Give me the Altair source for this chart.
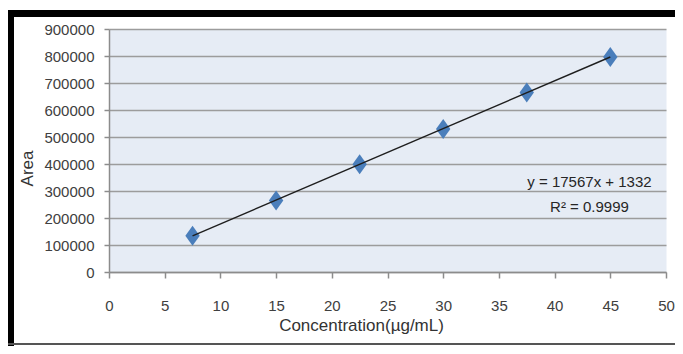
import altair as alt
import pandas as pd

# ---- data ----
conc = [7.5, 15, 22.5, 30, 37.5, 45]
area = [134500, 265000, 399000, 530000, 665000, 796000]
x_ticks = [0, 5, 10, 15, 20, 25, 30, 35, 40, 45, 50]
y_ticks = [0, 100000, 200000, 300000, 400000, 500000, 600000, 700000, 800000, 900000]
eq_text = ["y = 17567x + 1332", "R² = 0.9999"]
eq_x = [43.13, 43.13]
eq_y = [333000, 241000]

df = pd.DataFrame({"Concentration": conc, "Area": area})
ann = pd.DataFrame({"Concentration": eq_x, "Area": eq_y, "t": eq_text})
one = pd.DataFrame({"k": [0]})

FONT = "Liberation Sans"
xs = alt.Scale(domain=[0, 50], nice=False, zero=False)
ys = alt.Scale(domain=[0, 900000], nice=False, zero=False)

x_axis = alt.Axis(values=x_ticks, title="Concentration(µg/mL)", grid=False,
                  tickSize=6, labelPadding=20, labelAngle=0, labelFlush=False,
                  titleX=252, titleY=58, titleAlign="center", titleBaseline="alphabetic")
y_axis = alt.Axis(values=y_ticks, title="Area", grid=True, format="d",
                  tickSize=5, labelPadding=10, labelFlush=False,
                  titleX=-82, titleY=139, titleAngle=270,
                  titleAlign="center", titleBaseline="middle")

X = alt.X("Concentration:Q", scale=xs, axis=x_axis)
Y = alt.Y("Area:Q", scale=ys, axis=y_axis)

diamond = "M0,-1L0.72,0L0,1L-0.72,0Z"
points = alt.Chart(df).mark_point(shape=diamond, size=400, filled=True,
                                  color="#4a7ebb", opacity=1).encode(x=X, y=Y)

trend = alt.Chart(df).transform_regression("Concentration", "Area").mark_line(
    color="#1e1e1e", strokeWidth=1.4).encode(x=X, y=Y)

labels = alt.Chart(ann).mark_text(font=FONT, fontSize=15, color="#262626",
                                  align="center", baseline="middle").encode(
    x=X, y=Y, text="t:N")

# chart frame (decoration)
top_bar = alt.Chart(one).mark_rect(color="black").encode(
    x=alt.value(-101), x2=alt.value(566), y=alt.value(-19), y2=alt.value(-12))
left_bar = alt.Chart(one).mark_rect(color="black").encode(
    x=alt.value(-101), x2=alt.value(-95), y=alt.value(-19), y2=alt.value(317))
bottom_bar = alt.Chart(one).mark_rect(color="#555555").encode(
    x=alt.value(-101), x2=alt.value(566), y=alt.value(314), y2=alt.value(316))

chart = alt.layer(points, trend, labels, top_bar, left_bar, bottom_bar).properties(
    width=557, height=243,
    padding={"left": 101, "top": 21, "right": 9, "bottom": 74},
    autosize=alt.AutoSizeParams(type="none"),
    background="white",
).configure_view(
    fill="#e6ecf5", stroke="transparent"
).configure_axis(
    labelFont=FONT, labelFontSize=15, labelColor="#404040",
    titleFont=FONT, titleFontSize=17, titleFontWeight="normal", titleColor="#333333",
    domainColor="#8c8c8c", tickColor="#8c8c8c", domainWidth=1.5, tickWidth=1.5,
    gridColor="#9c9c9c", gridWidth=1.5,
)

chart.save("out.html", embed_options={"renderer": "svg", "actions": False})
